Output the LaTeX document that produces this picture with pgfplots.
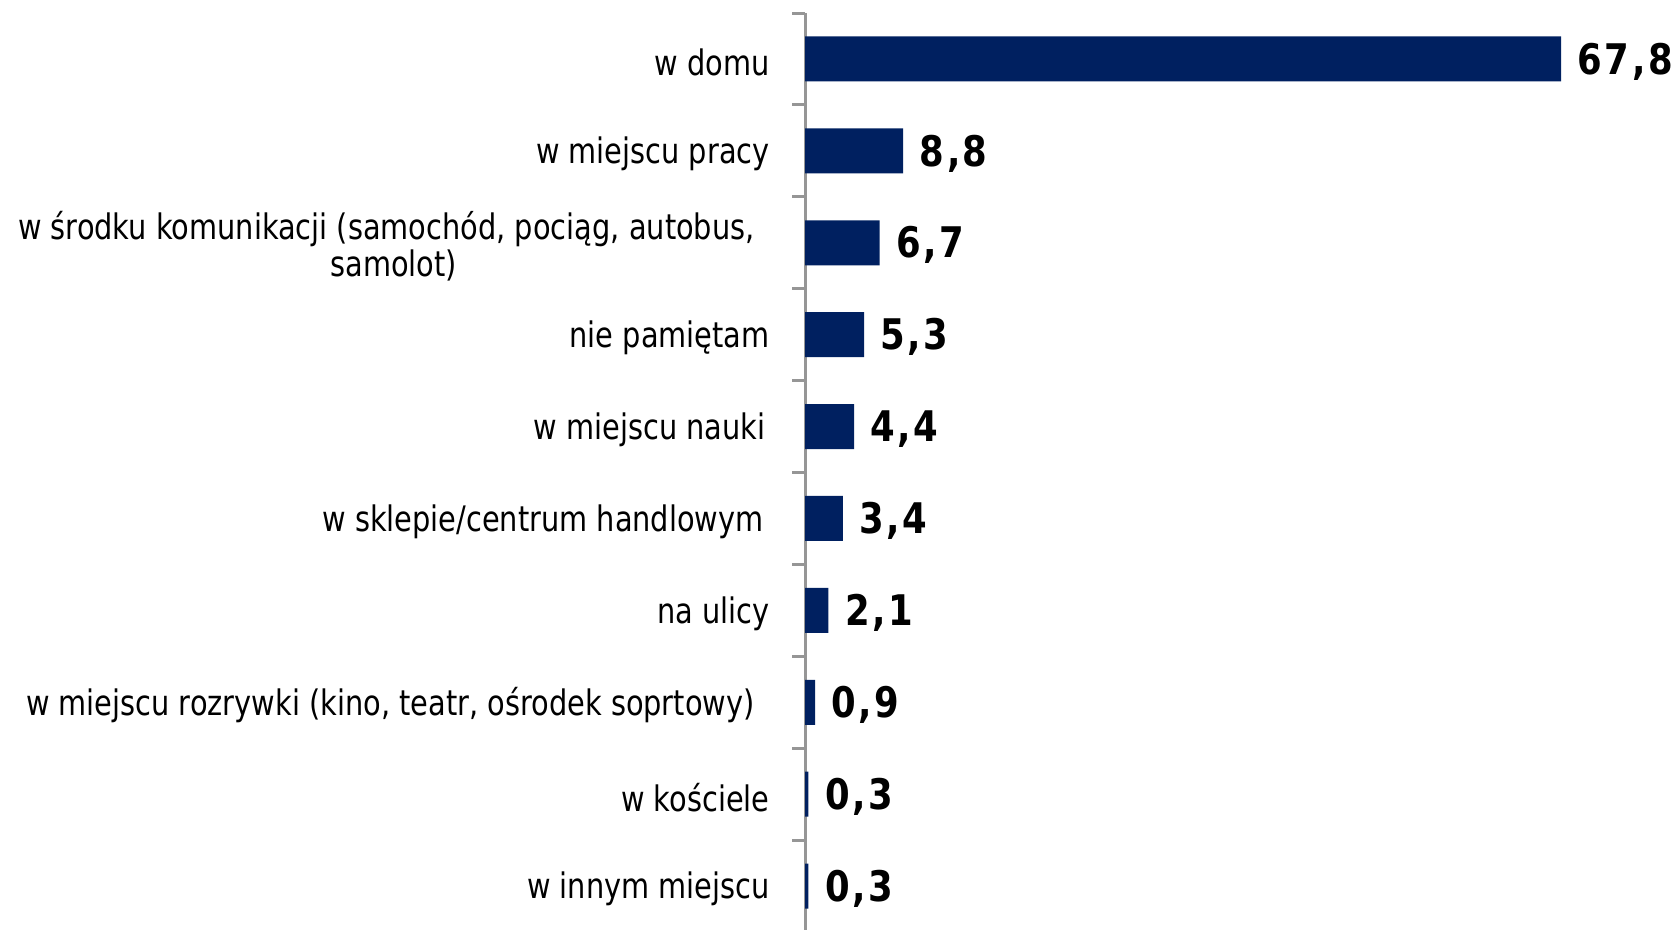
\documentclass[border=0pt]{standalone}
\usepackage{pgfplots}
\pgfplotsset{compat=1.18}
\usepackage{fontspec}
\setmainfont[FakeStretch=0.82]{DejaVu Sans}
\newfontfamily\valfont[FakeStretch=0.84,LetterSpace=6]{DejaVu Sans}
\definecolor{barblue}{RGB}{0,32,96}
\definecolor{axisgray}{RGB}{150,150,150}

\begin{document}
\begin{tikzpicture}
\begin{axis}[
  at={(80.5mm,-0.3mm)}, anchor=south west,
  scale only axis, width=85.86mm, height=91.9mm,
  xbar, bar width=4.5mm,
  xmin=0, xmax=77, ymin=0.5, ymax=10.5, y dir=reverse,
  axis x line=none, axis y line=left,
  axis line style={-, draw=axisgray, line width=0.3mm},
  ytick={1,...,10},
  yticklabels={w domu, w miejscu pracy,
    {w środku komunikacji (samochód, pociąg, autobus,\hspace*{1.5mm}\\samolot)},
    nie pamiętam, w miejscu nauki\hspace*{0.4mm}, w sklepie/centrum handlowym\hspace*{0.6mm},
    na ulicy, {w miejscu rozrywki (kino, teatr, ośrodek soprtowy)\hspace*{1.5mm}},
    w kościele, w innym miejscu},
  major tick length=0pt,
  minor ytick={0.5,1.5,...,10.5},
  minor tick length=1.3mm,
  tick align=outside, ytick pos=left,
  tick style={draw=axisgray, line width=0.3mm},
  yticklabel style={font=\fontsize{10}{10.5}\selectfont, align=center, xshift=-2.3mm, yshift=-0.3mm},
  nodes near coords={\pgfmathprintnumber[fixed,fixed zerofill,precision=1,use comma,assume math mode=true]{\pgfplotspointmeta}},
  nodes near coords style={font=\valfont\bfseries\fontsize{12}{14}\selectfont, anchor=west, inner sep=0pt, xshift=1.6mm, yshift=-0.25mm},
  clip=false,
]
\addplot[fill=barblue, draw=none] coordinates {(67.8,1) (8.8,2) (6.7,3) (5.3,4) (4.4,5) (3.4,6) (2.1,7) (0.9,8) (0.3,9) (0.3,10)};
\end{axis}
\pgfresetboundingbox
\path[use as bounding box] (0,0) rectangle (167.5mm,92.9mm);
\end{tikzpicture}
\end{document}
